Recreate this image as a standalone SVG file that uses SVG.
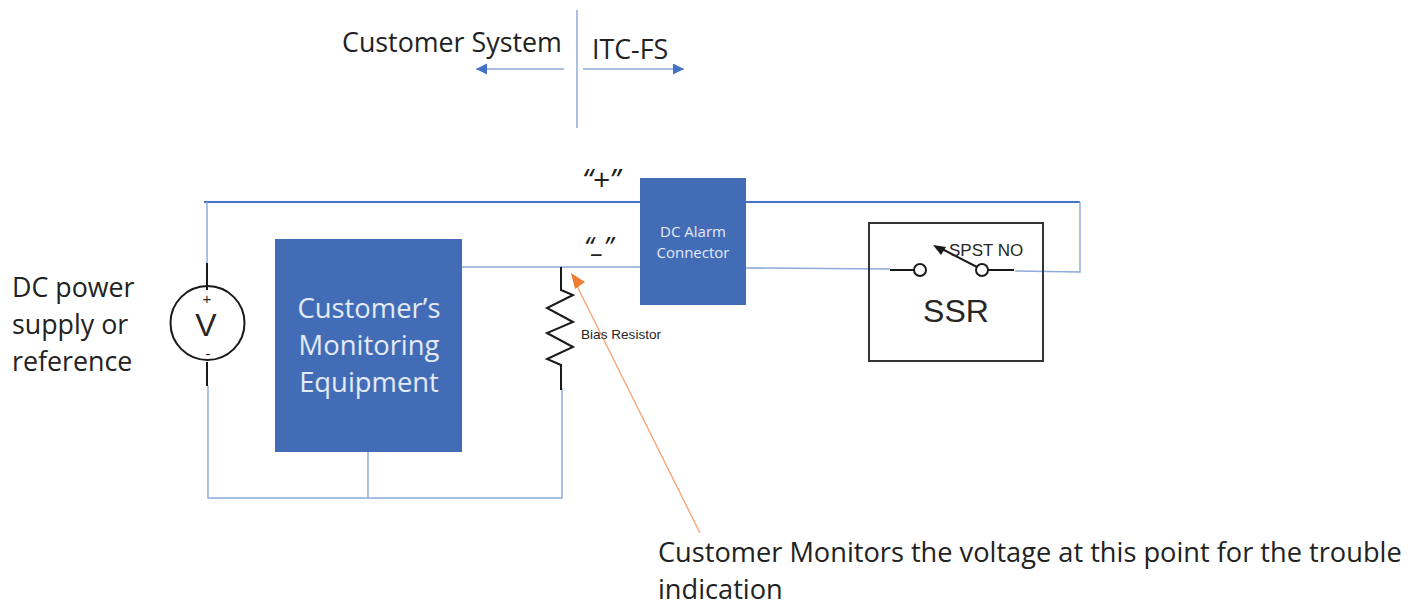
<svg xmlns="http://www.w3.org/2000/svg" width="1421" height="607" viewBox="0 0 1421 607">
<style>
.w{fill:none;stroke:#4472c4;stroke-width:2}
.l{fill:none;stroke:#8faadc;stroke-width:1.5}
.k{fill:none;stroke:#1a1a1a;stroke-width:2}
.c{font-family:"Open Sans","Noto Sans",sans-serif;font-size:26.800px;fill:#222}
.a{font-family:"Liberation Sans",Arial,sans-serif;fill:#262626}
.b{fill:#426db6}
.bt{font-family:"Open Sans","Noto Sans",sans-serif;fill:#e4eaf6;text-anchor:middle}
</style>
<defs>
<marker id="ab" markerWidth="13" markerHeight="12" refX="11" refY="5.500" orient="auto" markerUnits="userSpaceOnUse"><path d="M0 0L11 5.500L0 11Z" fill="#4472c4"/></marker>
</defs>
<g id="connectors">
<path class="l" d="M577 10V128"/>
<path class="l" d="M564 69H476" marker-end="url(#ab)"/>
<path class="l" d="M583 69H684" marker-end="url(#ab)"/>
<path class="w" d="M204 202H640M746 202H1080"/>
<path class="l" d="M1080 202V272L1015 271"/>
<path class="l" d="M207 202V263"/>
<path class="l" d="M208 386V498H562V388"/>
<path class="l" d="M368 452V498"/>
<path class="l" d="M462 267H640"/>
<path class="l" d="M746 268L890 269"/>
<path d="M700 533L574 280" fill="none" stroke="#f4a778" stroke-width="1.4"/>
<path d="M571 273L585 282L575 289Z" fill="#ed7d31"/>
</g>
<g id="title">
<text class="c" x="342" y="52">Customer System</text>
<text class="c" x="592" y="59">ITC-FS</text>
<text class="c" x="582" y="190" font-style="italic" style="font-size:30px">“+”</text>
<text class="c" x="584" y="257" font-style="italic">“<tspan dy="-5">_</tspan><tspan dy="5">”</tspan></text>
</g>
<g id="source">
<path class="k" d="M207 263V290M207 362V386"/>
<circle class="k" cx="207.500" cy="323" r="37"/>
<text class="a" x="206" y="336" font-size="32" text-anchor="middle">V</text>
<text class="a" x="207" y="304" font-size="15" text-anchor="middle">+</text>
<text class="a" x="208" y="359" font-size="15" text-anchor="middle">-</text>
<text class="c" x="12" y="297">DC power</text>
<text class="c" x="12" y="334">supply or</text>
<text class="c" x="12" y="371">reference</text>
</g>
<g id="monitor">
<rect class="b" x="275" y="239" width="187" height="213"/>
<text class="bt" font-size="27.400" x="369" y="318">Customer’s</text>
<text class="bt" font-size="27.400" x="369" y="355">Monitoring</text>
<text class="bt" font-size="27.400" x="369" y="392">Equipment</text>
</g>
<g id="alarm">
<rect class="b" x="640" y="178" width="106" height="127"/>
<text class="bt" font-size="15" x="693" y="237">DC Alarm</text>
<text class="bt" font-size="15" x="693" y="258">Connector</text>
</g>
<g id="resistor">
<path class="k" d="M561 267V290L573 295L547 308L573 322L547 333L573 347L547 359L561 365V390"/>
<text class="a" x="581" y="339" font-size="13.600">Bias Resistor</text>
</g>
<g id="ssr">
<rect x="869" y="223" width="174" height="138" fill="none" stroke="#333" stroke-width="2"/>
<path class="k" d="M890 270H914M988 270H1014"/>
<circle class="k" cx="920" cy="270" r="6"/>
<circle class="k" cx="982" cy="270" r="6"/>
<path class="k" d="M977 267L942 249"/>
<path d="M933 245L946 247L941 255Z" fill="#1a1a1a"/>
<text class="a" x="949" y="256" font-size="17">SPST NO</text>
<text class="a" x="956" y="322" font-size="32" text-anchor="middle">SSR</text>
</g>
<g id="note">
<text class="c" x="658" y="562" style="font-size:27.200px">Customer Monitors the voltage at this point for the trouble</text>
<text class="c" x="658" y="599" style="font-size:27.200px">indication</text>
</g>
</svg>
